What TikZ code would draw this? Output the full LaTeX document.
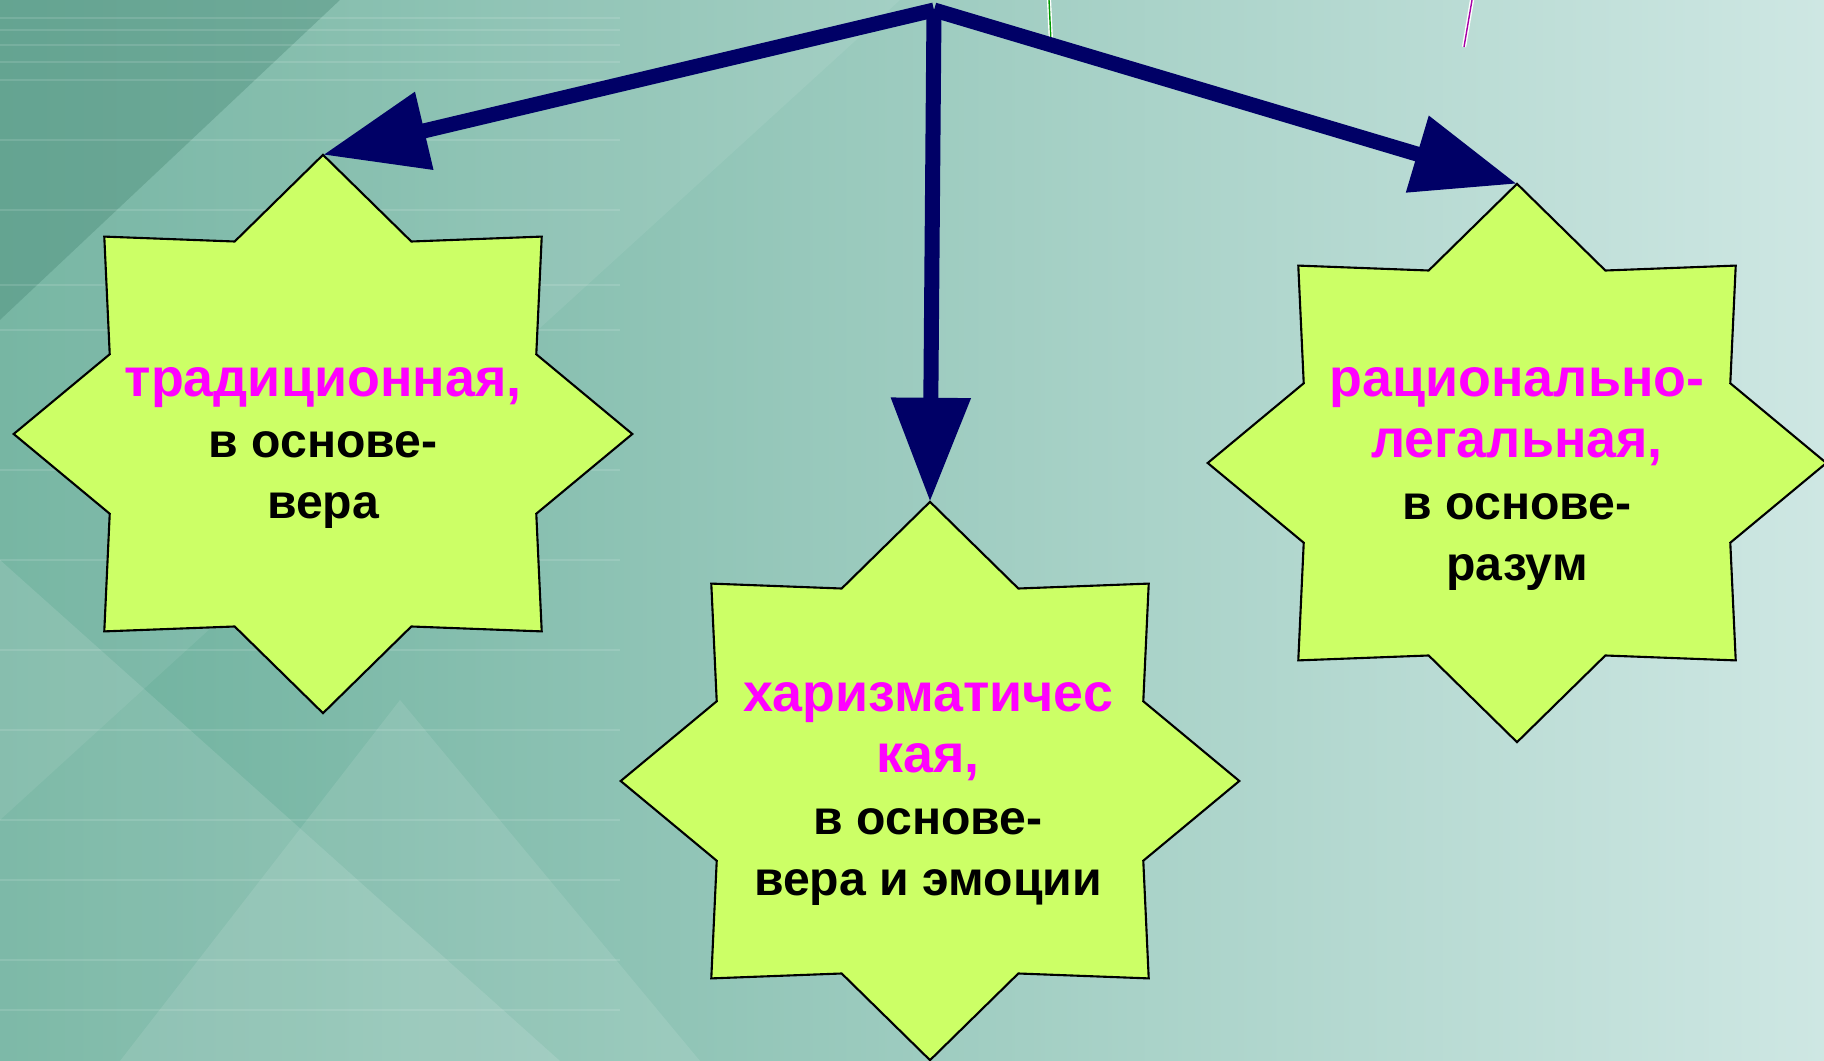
\documentclass[tikz,border=0pt]{standalone}
\usepackage{fontspec}
\setmainfont{Liberation Sans}
\usetikzlibrary{shapes.geometric,arrows.meta}
\definecolor{navyarr}{HTML}{000066}
\definecolor{starfill}{HTML}{CCFF66}
\definecolor{pinktxt}{RGB}{255,0,255}
\definecolor{bgdark}{RGB}{108,176,156}
\definecolor{bgmid}{RGB}{172,212,198}
\definecolor{bglight}{RGB}{206,231,227}
\newcommand{\kind}[1]{{\fontsize{15.3}{17.4}\selectfont\color{pinktxt}#1}}

\begin{document}
\begin{tikzpicture}[x=0.01cm,y=-0.01cm,
    starbox/.style={draw=black, line width=0.6pt, fill=starfill, shape=star, star points=8,
      star point ratio=1.34, minimum size=5.58cm, inner sep=0pt, outer sep=0pt, xscale=1.108},
    txt/.style={font=\bfseries\fontsize{13.7}{17.4}\selectfont, align=center, inner sep=0pt},
    arr/.style={draw=navyarr, line width=0.15cm, -{Triangle[length=1.04cm,width=0.76cm]}}]
    \useasboundingbox (0,0) rectangle (1824,1061);

    \shade[left color=bgdark, middle color=bgmid, right color=bglight] (0,0) rectangle (1824,1061);
    \fill[bgdark!85!black, opacity=0.45] (0,0) -- (340,0) -- (0,320) -- cycle;
    \fill[white, opacity=0.08] (340,0) -- (900,0) -- (0,820) -- (0,320) -- cycle;
    \fill[white, opacity=0.12] (0,560) -- (560,1061) -- (0,1061) -- cycle;
    \fill[white, opacity=0.10] (120,1061) -- (400,700) -- (700,1061) -- cycle;
    \foreach \y in {18,30,45,62,80,140,210,285,330,470,560,650,730,820,880,960,1010}
      \draw[white, opacity=0.12, line width=0.8pt] (0,\y) -- (620,\y);

    \draw[white, line width=1.2pt] (1049,0) -- (1051,42);
    \draw[green!60!black, line width=0.4pt] (1049,0) -- (1051,42);
    \draw[white, line width=1.2pt] (1472,0) -- (1464,47);
    \draw[violet!70!magenta, line width=0.4pt] (1472,0) -- (1464,47);

    \coordinate (top) at (934,10);

    \node[starbox] (trad)   at (323,434)  {};
    \node[starbox] (charis) at (930,781)  {};
    \node[starbox] (ratio)  at (1517,463) {};

    \node[txt] (tradtxt)   at (323,448)  {\kind{традиционная,}\\в основе-\\вера};
    \node[txt] (charistxt) at (928,794)  {\kind{харизматичес}\\\kind{кая,}\\в основе-\\вера и эмоции};
    \node[txt] (ratiotxt)  at (1517,479) {\kind{рационально-}\\\kind{легальная,}\\в основе-\\разум};

    \foreach \to in {trad, charis, ratio}
      \draw[arr] (top) -- (\to.north);
  \end{tikzpicture}
\end{document}
